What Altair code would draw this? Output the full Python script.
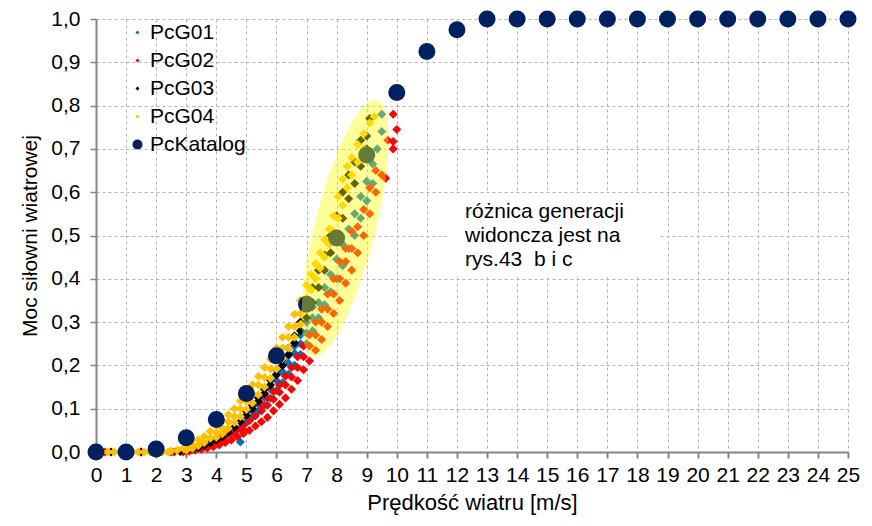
import altair as alt
import pandas as pd

# ---------------- data ----------------
SERIES = ["PcG01", "PcG02", "PcG03", "PcG04", "PcKatalog"]
COLORS = ["#0070C0", "#FF0000", "#000000", "#FFC000", "#002060"]

KAT_X = list(range(26))
KAT_Y = [0.0, 0.0, 0.007, 0.033, 0.075, 0.135, 0.222, 0.341, 0.494, 0.686, 0.83, 0.925, 0.975,
         1.0, 1.0, 1.0, 1.0, 1.0, 1.0, 1.0, 1.0, 1.0, 1.0, 1.0, 1.0, 1.0]

G01_X = [4.6, 4.8, 4.8, 5.0, 5.0, 5.2, 5.2, 5.4, 5.4, 5.6, 5.6, 5.8, 5.8, 6.0, 6.0, 6.0, 6.2, 6.2, 6.2,
         6.4, 6.4, 6.4, 6.6, 6.6, 6.6, 6.8, 6.8, 6.8, 7.0, 7.0, 7.0, 7.2, 7.2, 7.2, 7.4, 7.4, 7.6, 7.6,
         7.8, 7.8, 8.0, 8.0, 8.2, 8.2, 8.4, 8.4, 8.6, 8.6, 8.8, 8.8, 9.0, 9.0, 9.2, 9.2, 9.35, 9.5, 9.5]
G01_Y = [0.045, 0.055, 0.023, 0.068, 0.08, 0.08, 0.094, 0.094, 0.11, 0.108, 0.126, 0.124, 0.145, 0.142,
         0.165, 0.18, 0.16, 0.185, 0.2, 0.18, 0.205, 0.222, 0.2, 0.228, 0.245, 0.225, 0.25, 0.27, 0.25,
         0.275, 0.3, 0.28, 0.31, 0.335, 0.31, 0.345, 0.34, 0.38, 0.37, 0.41, 0.4, 0.445, 0.43, 0.48, 0.47,
         0.515, 0.5, 0.55, 0.54, 0.59, 0.58, 0.625, 0.62, 0.665, 0.7, 0.74, 0.78]

G02_X = [0.3, 0.9, 1.5, 2.1, 2.6, 2.9, 3.1, 3.3, 3.5, 3.5, 3.7, 3.7, 3.9, 3.9, 4.1, 4.1, 4.3, 4.3, 4.5, 4.5,
         4.7, 4.7, 4.9, 4.9, 4.9, 5.1, 5.1, 5.3, 5.3, 5.5, 5.5, 5.5, 5.7, 5.7, 5.7, 5.9, 5.9, 5.9, 6.1, 6.1,
         6.1, 6.3, 6.3, 6.3, 6.5, 6.5, 6.5, 6.7, 6.7, 6.7, 6.9, 6.9, 6.9, 7.1, 7.1, 7.1, 7.3, 7.3, 7.3, 7.5,
         7.5, 7.5, 7.7, 7.7, 7.7, 7.9, 7.9, 7.9, 8.1, 8.1, 8.1, 8.3, 8.3, 8.3, 8.5, 8.5, 8.5, 8.7, 8.7, 8.9,
         8.9, 9.1, 9.1, 9.3, 9.3, 9.5, 9.63, 9.7, 9.88, 9.88, 9.88, 10.0]
G02_Y = [0.0, 0.0, 0.0, 0.0, 0.0, 0.0, 0.002, 0.004, 0.006, 0.012, 0.009, 0.016, 0.012, 0.022, 0.016, 0.028,
         0.022, 0.035, 0.028, 0.043, 0.035, 0.052, 0.043, 0.062, 0.05, 0.05, 0.072, 0.06, 0.083, 0.07, 0.095,
         0.11, 0.08, 0.108, 0.125, 0.095, 0.122, 0.14, 0.11, 0.138, 0.155, 0.125, 0.155, 0.175, 0.145, 0.173,
         0.195, 0.165, 0.195, 0.22, 0.19, 0.22, 0.245, 0.21, 0.245, 0.27, 0.235, 0.27, 0.3, 0.26, 0.3, 0.33,
         0.29, 0.33, 0.365, 0.32, 0.365, 0.4, 0.35, 0.4, 0.44, 0.39, 0.44, 0.47, 0.42, 0.47, 0.51, 0.46, 0.52,
         0.5, 0.56, 0.55, 0.61, 0.6, 0.65, 0.64, 0.632, 0.72, 0.70, 0.717, 0.78, 0.745]

G03_X = [0.0, 0.5, 1.0, 1.5, 2.0, 2.5, 2.8, 3.0, 3.2, 3.4, 3.6, 3.8, 4.0, 4.2, 4.4, 4.6, 4.8, 5.0, 5.0, 5.2,
         5.2, 5.4, 5.4, 5.6, 5.6, 5.8, 5.8, 6.0, 6.0, 6.2, 6.2, 6.4, 6.4, 6.6, 6.6, 6.8, 6.8, 7.0, 7.0, 7.2,
         7.2, 7.4, 7.4, 7.6, 7.6, 7.8, 7.8, 8.0, 8.0, 8.2, 8.2, 8.4, 8.4, 8.6, 8.6, 8.8, 8.8, 9.0, 9.0, 9.1]
G03_Y = [0.0, 0.0, 0.0, 0.0, 0.0, 0.0, 0.001, 0.003, 0.006, 0.01, 0.015, 0.021, 0.028, 0.035, 0.045, 0.057,
         0.07, 0.085, 0.094, 0.1, 0.108, 0.117, 0.125, 0.135, 0.145, 0.155, 0.166, 0.178, 0.19, 0.2, 0.213,
         0.225, 0.24, 0.252, 0.268, 0.28, 0.3, 0.31, 0.335, 0.345, 0.38, 0.38, 0.42, 0.42, 0.455, 0.46, 0.5,
         0.5, 0.545, 0.54, 0.6, 0.585, 0.64, 0.62, 0.67, 0.66, 0.72, 0.7, 0.73, 0.77]

G04_X = [0.0, 0.2, 0.4, 0.6, 0.8, 1.0, 1.2, 1.4, 1.6, 1.8, 2.0, 2.2, 2.4, 2.5, 2.7, 2.9, 3.0, 3.0, 3.2, 3.2,
         3.4, 3.4, 3.6, 3.6, 3.8, 3.8, 4.0, 4.0, 4.0, 4.2, 4.2, 4.2, 4.4, 4.4, 4.4, 4.6, 4.6, 4.6, 4.8, 4.8,
         4.8, 5.0, 5.0, 5.0, 5.2, 5.2, 5.2, 5.4, 5.4, 5.4, 5.6, 5.6, 5.6, 5.8, 5.8, 5.8, 6.0, 6.0, 6.0, 6.2,
         6.2, 6.2, 6.4, 6.4, 6.4, 6.6, 6.6, 6.6, 6.8, 6.8, 6.8, 7.0, 7.0, 7.0, 7.15, 7.15, 7.3, 7.3, 7.45,
         7.45, 7.6, 7.6, 7.75, 7.75, 7.9, 7.9, 8.05, 8.05, 8.2, 8.2, 8.35, 8.35, 8.5, 8.5, 8.7, 8.7, 8.9,
         8.9, 9.1, 9.25, 4.3]
G04_Y = [0.0, 0.0, 0.0, 0.0, 0.0, 0.0, 0.0, 0.0, 0.0, 0.0, 0.0, 0.0, 0.0, 0.002, 0.004, 0.008, 0.012, 0.004,
         0.018, 0.008, 0.028, 0.015, 0.036, 0.022, 0.048, 0.032, 0.062, 0.045, 0.034, 0.072, 0.055, 0.042,
         0.086, 0.07, 0.055, 0.1, 0.082, 0.068, 0.118, 0.1, 0.082, 0.138, 0.118, 0.098, 0.155, 0.135, 0.113,
         0.175, 0.155, 0.132, 0.195, 0.172, 0.15, 0.215, 0.192, 0.17, 0.24, 0.215, 0.192, 0.265, 0.24, 0.216,
         0.29, 0.265, 0.24, 0.318, 0.29, 0.265, 0.35, 0.32, 0.295, 0.385, 0.355, 0.33, 0.41, 0.375, 0.435,
         0.40, 0.46, 0.425, 0.49, 0.45, 0.515, 0.48, 0.545, 0.51, 0.59, 0.54, 0.63, 0.57, 0.66, 0.61, 0.68,
         0.64, 0.71, 0.67, 0.735, 0.7, 0.76, 0.775, 0.05]

X_TICKS = list(range(26))
Y_TICKS = [0.0, 0.1, 0.2, 0.3, 0.4, 0.5, 0.6, 0.7, 0.8, 0.9, 1.0]

# highlight ellipse (annotation) and text box
ELLIPSE_CENTER = {"x": 8.28, "y": 0.517}
ANN_BOX = {"x1": 11.67, "x2": 18.75, "y1": 0.407, "y2": 0.598}
ANN_LINES = ["różnica generacji", "widoncza jest na", "rys.43\u00a0 b i c"]
ANN_X = [12.27, 12.27, 12.27]
ANN_Y = [0.540, 0.485, 0.430]

# ---------------- build tables ----------------
frames = []
for name, xs, ys in [("PcG01", G01_X, G01_Y), ("PcG02", G02_X, G02_Y),
                     ("PcG03", G03_X, G03_Y), ("PcG04", G04_X, G04_Y)]:
    d = pd.DataFrame({"x": xs, "y": ys})
    d["series"] = name
    frames.append(d)
df = pd.concat(frames, ignore_index=True)
df["idx"] = range(len(df))
kat = pd.DataFrame({"x": KAT_X, "y": KAT_Y, "series": "PcKatalog"})
leg = pd.DataFrame({"x": [-5.0] * 5, "y": [0.5] * 5, "series": SERIES})
ell = pd.DataFrame([ELLIPSE_CENTER])
box = pd.DataFrame([ANN_BOX])
ann = pd.DataFrame({"x": ANN_X, "y": ANN_Y, "t": ANN_LINES})

FONT = "Liberation Sans"
GRID = "#B4B4B4"
AXC = "#868686"

x_scale = alt.Scale(domain=[0, 25], nice=False, zero=False)
y_scale = alt.Scale(domain=[0, 1], nice=False, zero=False)
color_scale = alt.Scale(domain=SERIES, range=COLORS)
shape_scale = alt.Scale(domain=SERIES, range=["diamond", "diamond", "diamond", "diamond", "circle"])
size_scale = alt.Scale(type="ordinal", domain=SERIES, range=[16, 16, 16, 16, 100])

x_axis = alt.Axis(values=X_TICKS, title="Prędkość wiatru [m/s]", grid=True, gridDash=[3, 3],
                  gridColor=GRID, gridWidth=1, domainColor=AXC, domainWidth=2, tickColor=AXC,
                  tickWidth=2, tickSize=6, labelFont=FONT, labelFontSize=21, labelColor="black",
                  labelPadding=6, labelFlush=False, labelOverlap=False, titleFont=FONT,
                  titleFontSize=22, titleFontWeight="normal", titleColor="black", titlePadding=7)
y_axis = alt.Axis(values=Y_TICKS, title="Moc siłowni wiatrowej", grid=True, gridDash=[3, 3],
                  gridColor=GRID, gridWidth=1, domainColor=AXC, domainWidth=2, tickColor=AXC,
                  tickWidth=1.5, tickSize=6, labelFont=FONT, labelFontSize=21, labelColor="black",
                  labelPadding=10, labelFlush=False, labelOverlap=False,
                  labelExpr="replace(format(datum.value, '.1f'), '.', ',')",
                  titleFont=FONT, titleFontSize=21, titleFontWeight="normal", titleColor="black",
                  titlePadding=10)

legend_def = alt.Legend(title=None, orient="none", legendX=31, legendY=3, labelFont=FONT,
                        labelFontSize=21, labelColor="black", rowPadding=6, padding=0,
                        labelOffset=2, symbolStrokeWidth=0, symbolOpacity=1)


def X(field="x"):
    return alt.X(f"{field}:Q", scale=x_scale, axis=x_axis)


def Y(field="y"):
    return alt.Y(f"{field}:Q", scale=y_scale, axis=y_axis)


box_layer = alt.Chart(box).mark_rect(color="white", opacity=1).encode(
    x=X("x1"), x2="x2:Q", y=Y("y1"), y2="y2:Q")

pts = alt.Chart(df).mark_point(filled=True, shape="diamond", size=82, opacity=1, strokeWidth=0).encode(
    x=X(), y=Y(),
    color=alt.Color("series:N", scale=color_scale, legend=legend_def),
    order=alt.Order("idx:Q"))

kat_layer = alt.Chart(kat).mark_point(filled=True, shape="circle", size=289, opacity=1,
                                      strokeWidth=0, color="#002060").encode(x=X(), y=Y())

ELLIPSE_PATH = "M0,-1 A0.23,1 0 1,1 0,1 A0.23,1 0 1,1 0,-1 Z"
ell_layer = alt.Chart(ell).mark_point(filled=True, shape=ELLIPSE_PATH, size=69696, angle=14,
                                      color="#FFFF00", opacity=0.4, strokeWidth=0).encode(x=X(), y=Y())

txt = alt.Chart(ann).mark_text(align="left", baseline="alphabetic", font=FONT, fontSize=21,
                               color="black").encode(x=X(), y=Y(), text="t:N")

leg_layer = alt.Chart(leg).mark_point(filled=True, opacity=1, clip=True, strokeWidth=0).encode(
    x=X(), y=Y(),
    color=alt.Color("series:N", scale=color_scale, legend=legend_def),
    shape=alt.Shape("series:N", scale=shape_scale, legend=legend_def),
    size=alt.Size("series:N", scale=size_scale, legend=legend_def))

chart = alt.layer(box_layer, pts, kat_layer, ell_layer, txt, leg_layer).properties(
    width=752, height=433,
    autosize=alt.AutoSizeParams(type="none"),
    padding={"left": 88, "top": 11, "right": 16, "bottom": 68},
    background="white",
).configure_view(stroke=None)

chart.save("out.html", embed_options={"renderer": "svg", "actions": False})
